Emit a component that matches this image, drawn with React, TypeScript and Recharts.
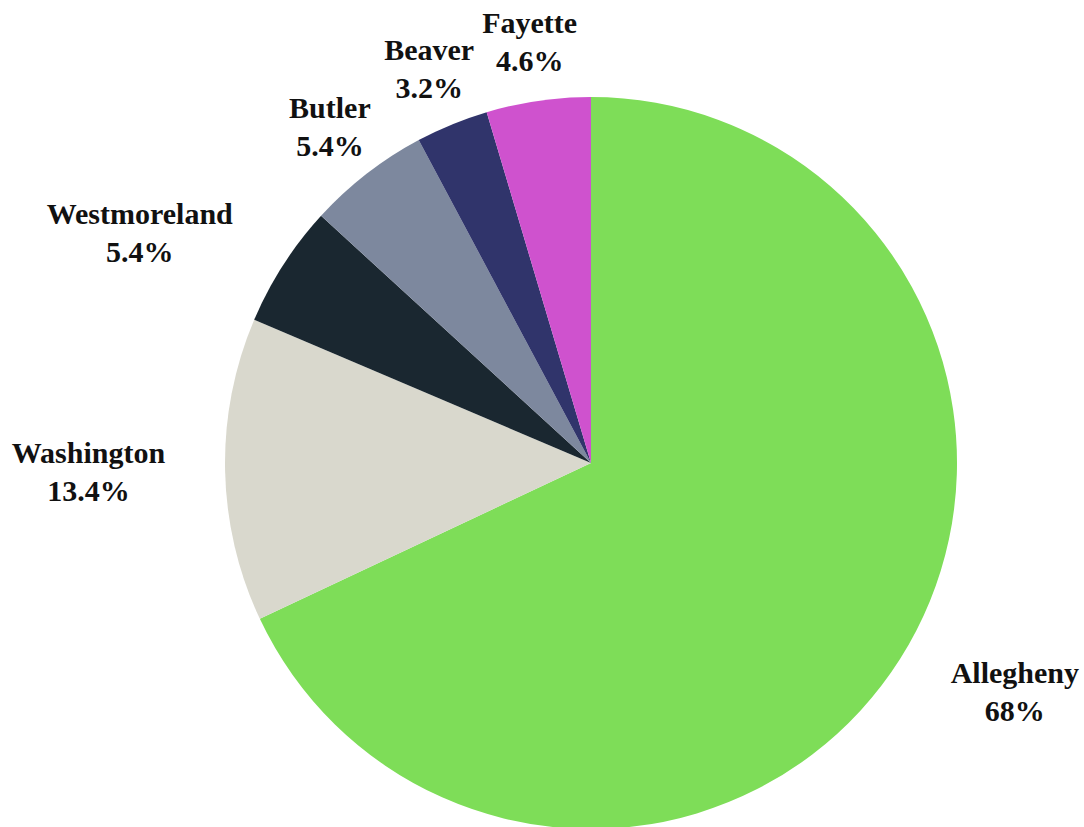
import { PieChart, Pie, Cell } from 'recharts';

const counties = ['Allegheny', 'Washington', 'Westmoreland', 'Butler', 'Beaver', 'Fayette'];
const shares = [68, 13.4, 5.4, 5.4, 3.2, 4.6];
const colors = ['#7EDD58', '#D9D8CD', '#1A2730', '#7D889E', '#30346B', '#CF52CE'];

const data = counties.map((name, i) => ({ name, value: shares[i] }));

const FONT = 'bold 30px "Liberation Serif", serif';
const RADIAN = Math.PI / 180;

let ctx: CanvasRenderingContext2D | null = null;
function textWidth(s: string) {
  if (!ctx) ctx = document.createElement('canvas').getContext('2d');
  if (!ctx) return s.length * 15;
  ctx.font = FONT;
  return ctx.measureText(s).width;
}

function renderLabel(props: any) {
  const { cx, cy, midAngle, outerRadius, name, value } = props;
  const r = outerRadius + 60;
  const ax = cx + r * Math.cos(-midAngle * RADIAN);
  const ay = cy + r * Math.sin(-midAngle * RADIAN);
  const pct = `${value}%`;
  const w = Math.max(textWidth(name), textWidth(pct));
  const c = Math.cos(-midAngle * RADIAN);
  // sideways labels hang off the anchor, top ones sit centred on it
  let x = ax;
  if (c > 0.7) x = ax + w / 2;
  else if (c < -0.7) x = ax - w / 2;
  return (
    <text
      x={x}
      y={ay}
      textAnchor="middle"
      fill="#111"
      style={{ font: FONT }}
    >
      <tspan x={x} dy={-19} dominantBaseline="central">{name}</tspan>
      <tspan x={x} dy={38} dominantBaseline="central">{pct}</tspan>
    </text>
  );
}

export default function App() {
  return (
    <div style={{ position: 'absolute', left: 0, top: 0, background: '#fff' }}>
      <PieChart width={1084} height={827}>
        <Pie
          data={data}
          dataKey="value"
          nameKey="name"
          cx={586}
          cy={458}
          outerRadius={366}
          startAngle={90}
          endAngle={-270}
          stroke="none"
          label={renderLabel}
          labelLine={false}
          isAnimationActive={false}
        >
          {data.map((d, i) => (
            <Cell key={d.name} fill={colors[i]} />
          ))}
        </Pie>
      </PieChart>
    </div>
  );
}
